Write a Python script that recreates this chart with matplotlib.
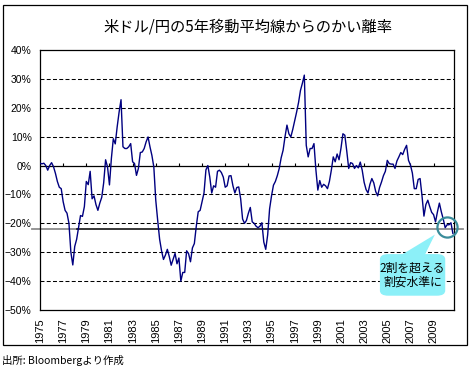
import numpy as np
import matplotlib.pyplot as plt
from matplotlib.patches import FancyBboxPatch, Polygon, Rectangle

plt.rcParams['font.family'] = ['Noto Sans CJK JP', 'DejaVu Sans']

# 米ドル/円の5年移動平均線からのかい離率 (%), 1975年1月から2か月ごと
deviation = [
    0.8, 0.6, 0.8, 0.0, -1.6, 0.0,            # 1975
    1.0, -0.4, -2.7, -5.5, -7.5, -8.0,        # 1976
    -12.5, -15.5, -16.5, -20.0, -30.0, -34.4,  # 1977
    -28.0, -25.5, -21.5, -17.3, -17.6, -14.2,  # 1978
    -5.5, -6.6, -2.0, -11.5, -10.5, -13.5,    # 1979
    -15.5, -13.0, -11.0, -6.0, 2.0, -0.5,     # 1980
    -6.7, 2.5, 9.3, 7.5, 13.4, 18.5,          # 1981
    22.8, 6.5, 5.9, 5.9, 6.5, 7.6,            # 1982
    1.3, 0.7, -3.4, -1.0, 4.5, 4.7,           # 1983
    5.9, 8.2, 9.9, 6.5, 3.5, -0.5,            # 1984
    -12.0, -19.0, -25.5, -29.5, -32.5, -31.0,  # 1985
    -29.0, -31.5, -34.5, -32.5, -30.4, -34.0,  # 1986
    -32.0, -40.0, -37.0, -37.0, -29.5, -30.5,  # 1987
    -33.3, -28.5, -27.0, -21.0, -16.0, -15.5,  # 1988
    -12.5, -9.5, -1.5, 0.0, -4.0, -9.5,       # 1989
    -7.0, -7.5, -2.0, -1.6, -2.4, -4.0,       # 1990
    -7.5, -7.0, -3.6, -3.5, -7.0, -9.5,       # 1991
    -7.6, -7.4, -11.5, -18.5, -20.0, -19.0,   # 1992
    -16.5, -14.5, -19.5, -20.0, -21.0, -21.5,  # 1993
    -21.0, -19.8, -26.5, -29.0, -24.0, -15.0,  # 1994
    -10.5, -6.8, -5.5, -3.5, -1.0, 2.7,       # 1995
    5.3, 10.0, 14.0, 11.0, 9.9, 12.5,         # 1996
    15.5, 18.5, 21.8, 26.0, 28.5, 31.3,       # 1997
    7.0, 3.0, 5.9, 5.9, 7.6, -1.5,            # 1998
    -8.5, -5.2, -7.5, -6.5, -7.0, -8.0,       # 1999
    -5.5, -1.6, 3.0, 1.3, 4.0, 2.0,           # 2000
    6.0, 11.0, 10.5, 5.0, -1.0, 1.0,          # 2001
    0.7, -1.0, 0.0, -0.8, 1.2, -1.6,          # 2002
    -5.8, -8.3, -9.5, -6.5, -4.5, -6.0,       # 2003
    -9.0, -10.5, -7.6, -5.7, -3.5, -2.0,      # 2004
    1.8, 0.7, 0.5, 0.5, -1.0, 1.6,            # 2005
    3.0, 4.5, 3.8, 5.6, 7.0, 1.8,             # 2006
    0.2, -2.6, -8.0, -8.0, -4.8, -4.5,        # 2007
    -10.5, -17.5, -13.5, -12.0, -14.2, -16.2,  # 2008
    -17.0, -19.5, -16.0, -13.0, -16.0, -18.5,  # 2009
    -21.5, -20.5, -20.5, -19.8, -23.5,        # 2010
]
years = 1975 + np.arange(len(deviation)) / 6
label_years = list(range(1975, 2010, 2))
y_ticks = list(range(-50, 41, 10))
grid_values = [30, 20, 10, -10, -20, -30, -40]
threshold = -21.8

fig = plt.figure(figsize=(4.71, 3.70), dpi=100)
ax = fig.add_axes([40 / 471, 60 / 370, 413.5 / 471, 260 / 370])

# 外枠
fig.patches.append(Rectangle((3 / 471, 25 / 370), 464 / 471, 340 / 370,
                             transform=fig.transFigure, fill=False,
                             edgecolor='black', linewidth=0.9))

ax.hlines(grid_values, 1975, 2010.72, colors='black', linewidth=0.75,
          linestyles=(0, (3.8, 2.2)), zorder=1)
ax.axhline(0, color='black', linewidth=0.9, zorder=2)
ax.vlines(label_years[1:], 0, 0.9, colors='black', linewidth=0.8, zorder=2)

# 2割ライン
ax.plot([1974.3, 1978.2], [threshold] * 2, color='#8c8c8c', linewidth=1.3,
        clip_on=False, zorder=2)
ax.plot([1978.2, 2007.8], [threshold] * 2, color='black', linewidth=1.1, zorder=2)
ax.plot([2007.8, 2011.5], [threshold] * 2, color='#8c8c8c', linewidth=1.3,
        clip_on=False, zorder=2)

ax.plot(years, deviation, color='#000080', linewidth=1.0, zorder=3)

ax.set_xlim(1975, 2010.72)
ax.set_ylim(-50, 40)
ax.set_yticks(y_ticks)
ax.set_yticklabels([f'{v}%'.replace('-', '\u2212') for v in y_ticks],
                   family=['Liberation Sans Narrow', 'Liberation Sans'], fontsize=7.5)
ax.set_xticks(label_years)
ax.set_xticklabels([str(y) for y in label_years], rotation=90,
                   family=['Liberation Sans Narrow', 'Liberation Sans'], fontsize=8)
ax.tick_params(axis='both', length=0)
ax.tick_params(axis='y', pad=6)
ax.tick_params(axis='x', pad=6)
for s in ax.spines.values():
    s.set_linewidth(0.9)

# 吹き出し
cyan = '#8cf0f8'
ax.add_patch(FancyBboxPatch((0.822, 0.055), 0.158, 0.16,
                            boxstyle='round,pad=0,rounding_size=0.02',
                            transform=ax.transAxes, facecolor=cyan,
                            edgecolor='none', zorder=4, clip_on=False))
ax.add_patch(Polygon([[0.872, 0.21], [0.93, 0.21], [0.955, 0.29]],
                     closed=True, transform=ax.transAxes, facecolor=cyan,
                     edgecolor='none', zorder=4))
ax.text(0.901, 0.135, '2割を超える\n割安水準に', transform=ax.transAxes,
        ha='center', va='center', fontsize=8.5, linespacing=1.1, zorder=5)
ax.plot([0.9836], [0.32], 'o', transform=ax.transAxes, markersize=14.5,
        markerfacecolor='none', markeredgecolor='#3a8c9a', markeredgewidth=1.6,
        clip_on=False, zorder=5)

fig.text(248 / 471, 1 - 27 / 370, '米ドル/円の5年移動平均線からのかい離率',
         ha='center', va='center', fontsize=11)
fig.text(2 / 471, 1 - 360 / 370, '出所: Bloombergより作成',
         ha='left', va='center', fontsize=7.5)

fig.savefig('out.png', dpi=100)
